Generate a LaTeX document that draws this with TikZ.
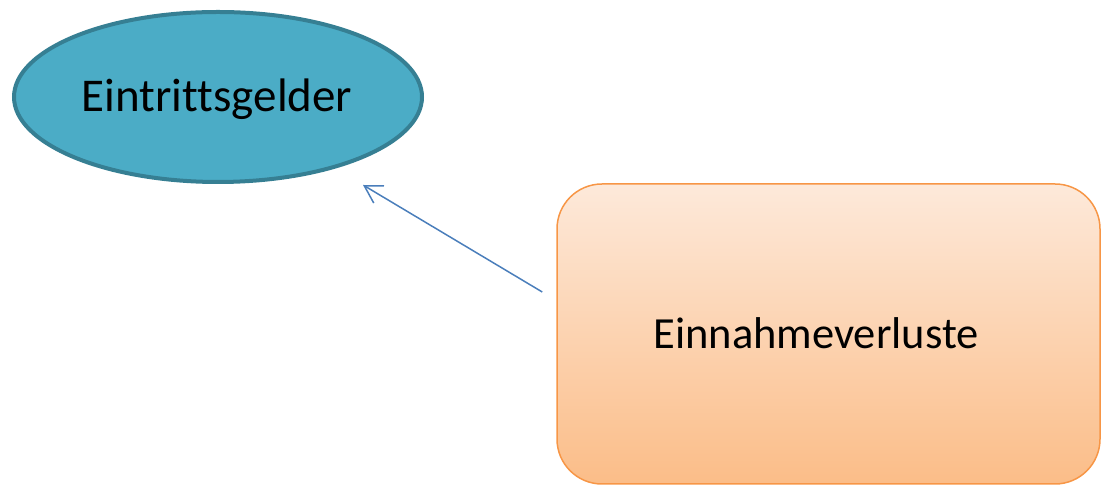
\documentclass[tikz,border=0pt]{standalone}
\usepackage{fontspec}
\setmainfont[Ligatures={NoCommon,NoRequired,NoContextual}]{Carlito}
\usetikzlibrary{arrows.meta,shapes.geometric,calc}
\definecolor{ellfill}{HTML}{4BACC6}
\definecolor{elldraw}{HTML}{367F93}
\definecolor{boxdraw}{HTML}{F79646}
\definecolor{boxtop}{HTML}{FDE9DA}
\definecolor{boxbot}{HTML}{FBBD88}
\definecolor{arrowcol}{HTML}{4A7EBB}
\tikzset{
  ellbox/.style={ellipse, draw=elldraw, fill=ellfill, line width=4pt, minimum width=408pt, minimum height=170pt, inner sep=0pt},
  orangebox/.style={rectangle, rounded corners=45pt, draw=boxdraw, line width=1.5pt, top color=boxtop, bottom color=boxbot, minimum width=543pt, minimum height=300pt, inner sep=0pt},
  lbl/.style={inner sep=0pt, text=black},
  conn/.style={draw=arrowcol, line width=1.5pt, -{Straight Barb[length=17pt,width=20pt,line width=1.5pt]}}
}
\begin{document}
\begin{tikzpicture}[x=1pt,y=1pt]
\useasboundingbox (0,0) rectangle (1102,486);
\node[ellbox] (ell) at (218,389) {};
\node[lbl, font=\fontsize{47}{56}\selectfont] (elltxt) at (217,387) {Eintrittsgelder};
\node[orangebox] (box) at (828.5,152) {};
\node[lbl, font=\fontsize{44.5}{53}\selectfont] (boxtxt) at (816,153) {Einnahmeverluste};
\coordinate (tail) at ($(box.west)+(-14,42)$);
\coordinate (tip) at ($(ell.south)+(145,-1)$);
\draw[conn] (tail) -- (tip);
\end{tikzpicture}
\end{document}
